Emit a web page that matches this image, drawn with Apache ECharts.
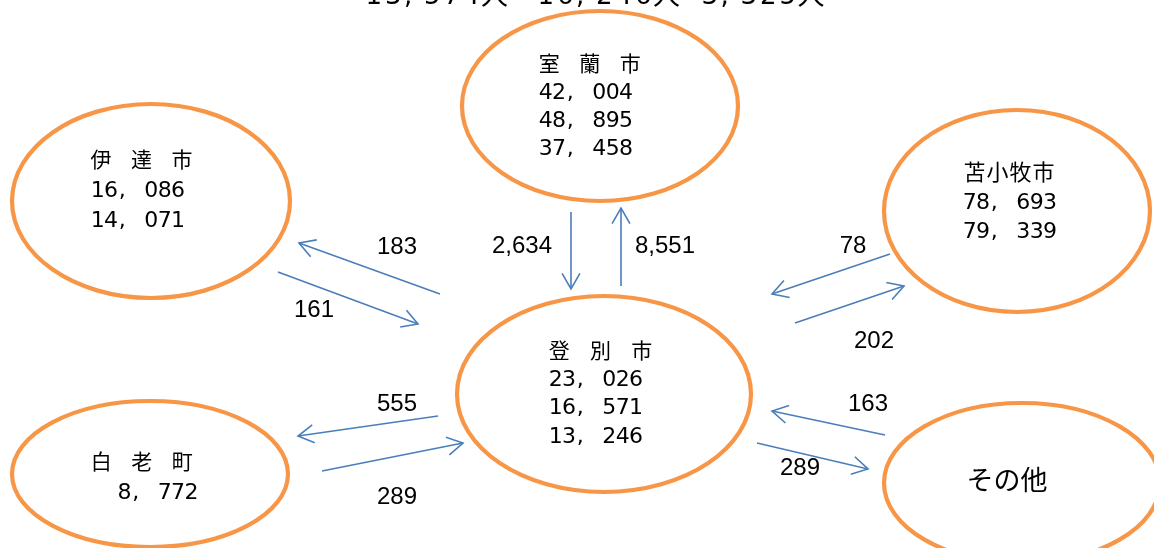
<!DOCTYPE html>
<html><head><meta charset="utf-8">
<script src="https://cdn.jsdelivr.net/npm/echarts@6/dist/echarts.min.js"></script>
<style>html,body{margin:0;padding:0;background:#fff}#c{width:1154px;height:548px}</style>
</head><body><div id="c"></div>
<script>
// ---- data ----
const nodeNames = ['室　蘭　市', '伊　達　市', '苫小牧市', '登　別　市', '白　老　町', 'その他'];
const nodeValues1 = ['42, 004', '16, 086', '78, 693', '23, 026', '  8, 772', ''];
const nodeValues2 = ['48, 895', '14, 071', '79, 339', '16, 571', '', ''];
const nodeValues3 = ['37, 458', '', '', '13, 246', '', ''];
const flowValues = ['2,634', '8,551', '183', '161', '78', '202', '555', '289', '163', '289'];
const headerTexts = ['13,574人', '16,246人', '3,325人'];

// ---- layout (pixel space of a hidden 0..1154 x 0..548 cartesian grid) ----
const nodeLayout = [
  {cx: 600, cy: 106, rx: 138, ry: 95, tx: 539, ty: 63, gap: 28, full: 20.3, size: 21},
  {cx: 151, cy: 201, rx: 139, ry: 97, tx: 91, ty: 159, gap: 30, full: 20.2, size: 21},
  {cx: 1017, cy: 211, rx: 133, ry: 101, tx: 963, ty: 172, gap: 29, full: 23, size: 22},
  {cx: 604, cy: 394, rx: 147, ry: 98, tx: 549, ty: 350, gap: 28.3, full: 20.6, size: 21},
  {cx: 150, cy: 474, rx: 138, ry: 73, tx: 91, ty: 461, gap: 30, full: 20.3, size: 21},
  {cx: 1022, cy: 483, rx: 138, ry: 80, tx: 1007, ty: 480, gap: 0, full: 0, size: 27, center: true}
];
const arrowLayout = [
  [571, 212, 571, 289], [621, 286, 621, 208],
  [440, 294, 299, 243], [278, 272, 418, 324],
  [890, 254, 772, 294], [795, 323, 904, 286],
  [438, 416, 298, 436], [322, 471, 463, 443],
  [885, 435, 772, 411], [757, 443, 868, 469]
];
const labelLayout = [
  [522, 246], [665, 246], [397, 247], [314, 310], [853, 246],
  [874, 341], [397, 404], [397, 497], [868, 404], [800, 468]
];
const headerLayout = [[364, -5], [536, -5], [700, -5]];

const ORANGE = '#F79646', BLUE = '#4A7EBB';
const CJK = '"Noto Sans CJK JP", "Noto Sans", sans-serif';
const LATIN = '"DejaVu Sans", "Noto Sans", sans-serif';
const HALF_ADV = 13.4;

function charRow(str, x0, y, half, full, size, halfSize, latinDy, children) {
  let x = x0;
  for (const ch of str) {
    const isFull = ch.charCodeAt(0) > 0xff;
    const adv = isFull ? full : half;
    if (ch !== ' ' && ch !== '　') {
      const isComma = ch === ',';
      children.push({
        type: 'text',
        style: {text: ch, x: isComma ? x + 1 : x + adv / 2, y: isFull ? y : y + latinDy,
          align: isComma ? 'left' : 'center', verticalAlign: 'middle',
          fontSize: isFull ? size : halfSize, fontFamily: isFull ? CJK : LATIN, fill: '#000'}
      });
    }
    x += adv;
  }
}

const chart = echarts.init(document.getElementById('c'));
chart.setOption({
  animation: false,
  grid: {left: 0, right: 0, top: 0, bottom: 0},
  xAxis: {type: 'value', min: 0, max: 1154, show: false},
  yAxis: {type: 'value', min: 0, max: 548, inverse: true, show: false},
  series: [
    {
      type: 'custom', coordinateSystem: 'cartesian2d', silent: true, z: 2,
      data: nodeLayout.map((n, i) => [n.cx, n.cy, n.rx, n.ry, i]),
      renderItem: (params, api) => {
        const c = api.coord([api.value(0), api.value(1)]);
        const s = api.size([api.value(2), api.value(3)]);
        return {type: 'ellipse', shape: {cx: c[0], cy: c[1], rx: s[0], ry: s[1]},
          style: {fill: '#fff', stroke: ORANGE, lineWidth: 4.2}};
      }
    },
    {
      type: 'custom', coordinateSystem: 'cartesian2d', silent: true, z: 3,
      data: nodeLayout.map((n, i) => [n.tx, n.ty, i]),
      renderItem: (params, api) => {
        const i = api.value(2);
        const n = nodeLayout[i];
        const p = api.coord([api.value(0), api.value(1)]);
        const children = [];
        if (n.center) {
          children.push({type: 'text', style: {text: nodeNames[i], x: p[0], y: p[1], align: 'center',
            verticalAlign: 'middle', fontSize: n.size, fontFamily: CJK, fill: '#000'}});
        } else {
          const lines = [nodeNames[i], nodeValues1[i], nodeValues2[i], nodeValues3[i]];
          lines.forEach((t, k) => {
            if (t) charRow(t, p[0], p[1] + k * n.gap, HALF_ADV, n.full, n.size, 22, 2, children);
          });
        }
        return {type: 'group', children: children};
      }
    },
    {
      type: 'custom', coordinateSystem: 'cartesian2d', silent: true, z: 4,
      data: arrowLayout.map((a, i) => [a[0], a[1], a[2], a[3], i]),
      renderItem: (params, api) => {
        const a = api.coord([api.value(0), api.value(1)]);
        const b = api.coord([api.value(2), api.value(3)]);
        const ang = Math.atan2(b[1] - a[1], b[0] - a[0]);
        const L = 18, w = 0.52;
        const p1 = [b[0] - L * Math.cos(ang - w), b[1] - L * Math.sin(ang - w)];
        const p2 = [b[0] - L * Math.cos(ang + w), b[1] - L * Math.sin(ang + w)];
        return {type: 'group', children: [
          {type: 'line', shape: {x1: a[0], y1: a[1], x2: b[0], y2: b[1]}, style: {stroke: BLUE, lineWidth: 1.6}},
          {type: 'polyline', shape: {points: [p1, b, p2]}, style: {stroke: BLUE, lineWidth: 1.6, fill: null}}
        ]};
      }
    },
    {
      type: 'custom', coordinateSystem: 'cartesian2d', silent: true, z: 5,
      data: labelLayout.map((l, i) => [l[0], l[1], i]),
      renderItem: (params, api) => {
        const p = api.coord([api.value(0), api.value(1)]);
        return {type: 'text', style: {text: flowValues[api.value(2)], x: p[0], y: p[1], align: 'center',
          verticalAlign: 'middle', fontSize: 24, fontFamily: '"Liberation Sans", Arial, sans-serif', fill: '#000'}};
      }
    },
    {
      type: 'custom', coordinateSystem: 'cartesian2d', silent: true, z: 5, clip: false,
      data: headerLayout.map((h, i) => [h[0], h[1], i]),
      renderItem: (params, api) => {
        const p = api.coord([api.value(0), api.value(1)]);
        const children = [];
        charRow(headerTexts[api.value(2)], p[0], p[1], 19.5, 27, 27, 26, 2, children);
        return {type: 'group', children: children};
      }
    }
  ]
});
</script>
</body></html>
